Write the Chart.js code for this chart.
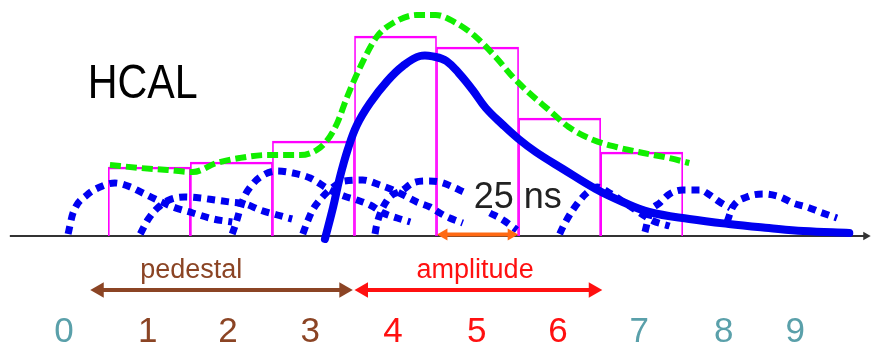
<!DOCTYPE html>
<html>
<head>
<meta charset="utf-8">
<script src="https://cdn.jsdelivr.net/npm/chart.js@4"></script>
<style>
  html, body { margin: 0; padding: 0; background: #ffffff; }
  #wrap { width: 872px; height: 345px; position: relative; }
</style>
</head>
<body>
<div id="wrap"><canvas id="c"></canvas></div>
<script>
// ---- Data (x in time-slice units, 1 slice = 25 ns; y in arbitrary amplitude units) ----
const timeSlices  = [1, 2, 3, 4, 5, 6, 7];
const sliceCharge = [69, 74, 95, 200, 189, 118, 84];

const mainPulseX = [3.14, 3.24, 3.32, 3.42, 3.53, 3.69, 3.90, 4.09, 4.30, 4.49, 4.62, 4.77, 4.94, 5.10, 5.31, 5.50, 5.71, 6.04, 6.44, 6.77, 7.09, 7.58, 8.06, 8.55, 8.97, 9.53];
const mainPulseY = [-3, 29, 58, 87, 111, 133, 155, 170, 180, 179, 175, 163, 146, 128, 111, 97, 84, 67, 47, 34, 24, 17, 12, 8, 5, 3];

const sumPulseX = [0.52, 0.89, 1.22, 1.53, 1.82, 2.10, 2.43, 2.84, 3.04, 3.17, 3.29, 3.41, 3.57, 3.77, 3.97, 4.26, 4.49, 4.74, 4.98, 5.22, 5.43, 5.63, 5.87, 6.11, 6.41, 6.69, 7.02, 7.33, 7.58];
const sumPulseY = [71, 68, 66, 64, 73, 78, 81, 81, 86, 96, 113, 139, 169, 199, 213, 221, 221, 213, 199, 179, 159, 143, 126, 109, 96, 89, 83, 78, 73];

// pile-up pulses from neighbouring bunch crossings: [x, y] pairs
const pileup1 = [[0.01,2],[0.07,23],[0.24,41],[0.40,49],[0.58,53],[0.77,49],[0.92,43],[1.07,37],[1.29,29],[1.53,23],[1.78,17],[2.01,14]];
const pileup2 = [[0.89,2],[0.98,16],[1.10,28],[1.24,36],[1.43,39],[1.62,38],[1.80,36],[1.98,34],[2.17,32],[2.35,26],[2.56,21],[2.74,17]];
const pileup3 = [[2.01,2],[2.06,14],[2.14,36],[2.25,51],[2.39,61],[2.56,65],[2.75,63],[2.96,58],[3.20,46],[3.37,40],[3.53,36],[3.69,31],[3.85,23],[4.02,18],[4.18,14]];
const pileup4 = [[2.87,2],[2.92,13],[2.99,26],[3.11,39],[3.24,49],[3.38,55],[3.60,56],[3.81,51],[3.97,46],[4.14,39],[4.26,34],[4.42,29],[4.54,23],[4.66,18],[4.82,13]];
const pileup5 = [[3.75,2],[3.77,11],[3.90,36],[4.09,46],[4.21,53],[4.38,55],[4.54,54],[4.70,49],[4.83,44],[4.99,null],[5.15,23],[5.31,16],[5.48,6]];
const pileup6 = [[6.00,2],[6.04,9],[6.16,26],[6.33,43],[6.46,49],[6.61,43],[6.80,33],[6.98,23],[7.14,15],[7.34,10]];
const pileup7 = [[7.04,4],[7.10,23],[7.22,33],[7.34,42],[7.50,46],[7.71,46],[7.83,41],[7.95,34],[8.08,28]];
const pileup8 = [[8.04,14],[8.11,29],[8.28,39],[8.48,42],[8.69,39],[8.84,33],[9.01,29],[9.17,24],[9.38,18]];
const pileups = [pileup1, pileup2, pileup3, pileup4, pileup5, pileup6, pileup7, pileup8];

// time axis and interval arrows: [start, end] in slice units
const axisRange      = [-0.70, 9.73];
const pedestalRange  = [0.39, 3.37];
const amplitudeRange = [3.61, 6.41];
const slotRange      = [4.59, 5.41];

// slice number labels
const tickLabels    = ['0', '1', '2', '3', '4', '5', '6', '7', '8', '9'];
const tickPositions = [-0.04, 0.98, 1.96, 2.96, 3.97, 4.99, 5.98, 6.97, 8.00, 8.87];
const tickGroup     = ['out', 'ped', 'ped', 'ped', 'amp', 'amp', 'amp', 'out', 'out', 'out'];

// ---- Styles ----
const COLORS = { ped: '#8b4424', amp: '#ff1010', out: '#5aa0aa', blue: '#0000f0', green: '#11ee00', magenta: '#ff00ff', orange: '#ff6a14', axis: '#333333' };
const FONT = '"Liberation Sans", Arial, sans-serif';

const textItems = [
  { text: 'HCAL',      x: 0.92, y: 138, size: 49, color: '#000000', maxWidth: 110 },
  { text: '25 ns',     x: 5.49, y: 28,  size: 36, color: '#222222' },
  { text: 'pedestal',  x: 1.51, y: -42, size: 27, color: COLORS.ped },
  { text: 'amplitude', x: 4.97, y: -42, size: 27, color: COLORS.amp }
];
const tickLabelY = -106;

function pts(xs, ys) { return xs.map((x, i) => ({ x: x, y: ys[i] })); }
function pairs(arr) { return arr.map(p => ({ x: p[0], y: p[1] })); }
function arrow(range, yv, color, width, rad, both, order) {
  return {
    type: 'line',
    data: [{ x: range[0], y: yv }, { x: range[1], y: yv }],
    borderColor: color, borderWidth: width,
    pointStyle: 'triangle',
    pointRadius: both ? [rad, rad] : [0, rad],
    pointRotation: [270, 90],
    pointBackgroundColor: color, pointBorderColor: color, pointBorderWidth: 0,
    order: order
  };
}

const datasets = [];
datasets.push(arrow(axisRange, 0, COLORS.axis, 2, 5, false, 7));
datasets.push({
  type: 'bar',
  data: pts(timeSlices, sliceCharge),
  borderColor: COLORS.magenta,
  backgroundColor: 'rgba(0,0,0,0)',
  borderWidth: { top: 2, left: 1, right: 1, bottom: 0 },
  borderSkipped: 'start',
  barPercentage: 1, categoryPercentage: 1,
  order: 6
});
pileups.forEach(p => datasets.push({
  type: 'line', data: pairs(p),
  borderColor: COLORS.blue, borderWidth: 7, borderDash: [8, 6],
  cubicInterpolationMode: 'monotone', spanGaps: false, pointRadius: 0, order: 5
}));
datasets.push({
  type: 'line', data: pts(sumPulseX, sumPulseY),
  borderColor: COLORS.green, borderWidth: 6, borderDash: [11, 5],
  cubicInterpolationMode: 'monotone', pointRadius: 0, order: 4
});
datasets.push({
  type: 'line', data: pts(mainPulseX, mainPulseY),
  borderColor: COLORS.blue, borderWidth: 8, borderCapStyle: 'round',
  tension: 0.4, pointRadius: 0, order: 3
});
datasets.push(arrow(slotRange, 1.5, COLORS.orange, 4, 7, true, 2));
datasets.push(arrow(pedestalRange, -54, COLORS.ped, 4, 9, true, 1));
datasets.push(arrow(amplitudeRange, -54, COLORS.amp, 4, 9, true, 1));

const annotate = {
  id: 'annotate',
  afterDatasetsDraw(chart) {
    const ctx = chart.ctx, xs = chart.scales.x, ys = chart.scales.y;
    ctx.save();
    ctx.textAlign = 'center';
    ctx.textBaseline = 'alphabetic';
    textItems.forEach(t => {
      ctx.font = t.size + 'px ' + FONT;
      ctx.fillStyle = t.color;
      const px = xs.getPixelForValue(t.x), py = ys.getPixelForValue(t.y);
      if (t.maxWidth) ctx.fillText(t.text, px, py, t.maxWidth); else ctx.fillText(t.text, px, py);
    });
    ctx.font = '35px ' + FONT;
    tickLabels.forEach((lab, i) => {
      ctx.fillStyle = COLORS[tickGroup[i]];
      ctx.fillText(lab, xs.getPixelForValue(tickPositions[i]), ys.getPixelForValue(tickLabelY));
    });
    ctx.restore();
  }
};

new Chart(document.getElementById('c'), {
  type: 'line',
  data: { datasets: datasets },
  options: {
    responsive: true, maintainAspectRatio: false, animation: false,
    events: [],
    layout: { padding: 0, autoPadding: false },
    plugins: { legend: { display: false }, tooltip: { enabled: false } },
    elements: { point: { radius: 0 } },
    scales: {
      x: { type: 'linear', display: false, min: -0.8197, max: 9.8065, offset: false,
           afterBuildTicks: s => { s.ticks = timeSlices.map(v => ({ value: v })); } },
      y: { type: 'linear', display: false, min: -109, max: 236 }
    }
  },
  plugins: [annotate]
});
</script>
</body>
</html>
